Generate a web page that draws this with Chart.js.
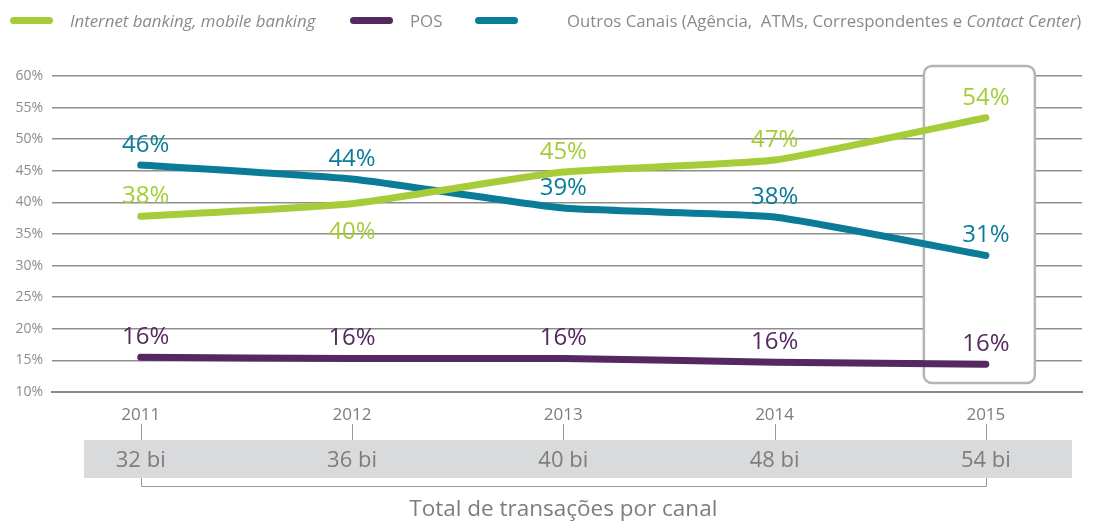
<!DOCTYPE html>
<html>
<head>
<meta charset="utf-8">
<script src="https://cdn.jsdelivr.net/npm/chart.js@4"></script>
<style>
  html, body { margin: 0; padding: 0; background: #fff; }
  #wrap { position: relative; width: 1093px; height: 523px; }
  #legend { position: absolute; left: 0; top: 9px; font-family: 'Open Sans', sans-serif; font-size: 16.8px; color: #8a8a8a; white-space: nowrap; }
  #legend span.item { position: absolute; top: 0; }
  #legend i.sw { position: absolute; top: 8px; width: 43px; height: 7px; border-radius: 4px; }
</style>
</head>
<body>
<div id="wrap">
  <div id="legend"></div>
  <canvas id="chart" width="1093" height="523"></canvas>
</div>
<script>
const years = [2011, 2012, 2013, 2014, 2015];
const internetValues = [37.8, 39.8, 44.8, 46.7, 53.4];
const posValues = [15.5, 15.3, 15.3, 14.7, 14.4];
const outrosValues = [45.9, 43.7, 39.1, 37.7, 31.6];
const internetLabels = ['38%', '40%', '45%', '47%', '54%'];
const posLabels = ['16%', '16%', '16%', '16%', '16%'];
const outrosLabels = ['46%', '44%', '39%', '38%', '31%'];
const internetBelow = [false, true, false, false, false];
const totals = ['32 bi', '36 bi', '40 bi', '48 bi', '54 bi'];
const yTicks = [10, 15, 20, 25, 30, 35, 40, 45, 50, 55, 60];

const green = '#a6cd39';
const purple = '#55285f';
const teal = '#0a7c98';

// legend (HTML so "Contact Center" can be italic)
const legend = document.getElementById('legend');
legend.innerHTML =
  '<i class="sw" style="left:10px;background:' + green + '"></i>' +
  '<span class="item" style="left:70px;font-style:italic">Internet banking, mobile banking</span>' +
  '<i class="sw" style="left:350px;background:' + purple + '"></i>' +
  '<span class="item" style="left:410px">POS</span>' +
  '<i class="sw" style="left:475px;background:' + teal + '"></i>' +
  '<span class="item" style="left:567px">Outros Canais (Agência,&nbsp; ATMs, Correspondentes e <i>Contact Center</i>)</span>';

const toPoints = vals => vals.map((v, i) => ({ x: years[i], y: v }));

const highlightBox = {
  id: 'highlightBox',
  beforeDatasetsDraw(chart) {
    const { ctx, scales } = chart;
    const cx = scales.x.getPixelForValue(2015);
    const left = cx - 62, right = cx + 49;
    const top = scales.y.getPixelForValue(60) - 10;
    const bottom = scales.y.getPixelForValue(10) - 9;
    ctx.save();
    ctx.beginPath();
    ctx.roundRect(left, top, right - left, bottom - top, 8);
    ctx.fillStyle = '#fff';
    ctx.fill();
    ctx.lineWidth = 2.5;
    ctx.strokeStyle = '#b4b5b8';
    ctx.stroke();
    ctx.restore();
  }
};

const valueLabels = {
  id: 'valueLabels',
  afterDatasetsDraw(chart) {
    const { ctx } = chart;
    const sets = [internetLabels, posLabels, outrosLabels];
    ctx.save();
    ctx.font = '24px "Open Sans", sans-serif';
    ctx.textAlign = 'center';
    ctx.textBaseline = 'middle';
    chart.data.datasets.forEach((ds, di) => {
      const meta = chart.getDatasetMeta(di);
      ctx.fillStyle = ds.borderColor;
      meta.data.forEach((pt, i) => {
        const below = di === 0 && internetBelow[i];
        ctx.fillText(sets[di][i], pt.x + (i === 0 ? 5 : 0), pt.y + (below ? 28 : -20));
      });
    });
    ctx.restore();
  }
};

const totalsBand = {
  id: 'totalsBand',
  afterDraw(chart) {
    const { ctx, scales } = chart;
    const xs = years.map(y => scales.x.getPixelForValue(y));
    ctx.save();
    ctx.fillStyle = '#d9dadb';
    ctx.fillRect(84, 440, 988, 38);
    ctx.strokeStyle = '#9a9a9a';
    ctx.lineWidth = 1;
    xs.forEach(x => {
      ctx.beginPath();
      ctx.moveTo(Math.round(x) + 0.5, 424);
      ctx.lineTo(Math.round(x) + 0.5, 440);
      ctx.stroke();
    });
    const x0 = Math.round(xs[0]) + 0.5, x1 = Math.round(xs[xs.length - 1]) + 0.5;
    ctx.beginPath();
    ctx.moveTo(x0, 478);
    ctx.lineTo(x0, 486.5);
    ctx.lineTo(x1, 486.5);
    ctx.lineTo(x1, 478);
    ctx.stroke();
    ctx.fillStyle = '#7d7d7d';
    ctx.font = '22px "Open Sans", sans-serif';
    ctx.textAlign = 'center';
    ctx.textBaseline = 'middle';
    totals.forEach((t, i) => ctx.fillText(t, xs[i], 461));
    ctx.font = '22.5px "Open Sans", sans-serif';
    ctx.fillText('Total de transações por canal', (xs[0] + xs[4]) / 2, 510);
    ctx.restore();
  }
};

new Chart(document.getElementById('chart').getContext('2d'), {
  type: 'line',
  data: {
    datasets: [
      { label: 'Internet banking, mobile banking', data: toPoints(internetValues), borderColor: green },
      { label: 'POS', data: toPoints(posValues), borderColor: purple },
      { label: 'Outros Canais', data: toPoints(outrosValues), borderColor: teal }
    ]
  },
  options: {
    responsive: false,
    animation: false,
    layout: { padding: { top: 76, right: 11, left: 0, bottom: 0 } },
    elements: {
      line: { borderWidth: 7, borderCapStyle: 'round', borderJoinStyle: 'round', tension: 0.15 },
      point: { radius: 0, hoverRadius: 0 }
    },
    scales: {
      x: {
        type: 'linear',
        min: 2010.58,
        max: 2015.455,
        afterBuildTicks: axis => { axis.ticks = years.map(v => ({ value: v })); },
        afterFit: axis => { axis.height = 131; },
        grid: { display: false },
        border: { display: true, color: '#888', width: 2 },
        ticks: {
          padding: 5,
          color: '#7d7d7d',
          font: { family: 'Open Sans', size: 17 },
          callback: v => String(v)
        }
      },
      y: {
        min: 10,
        max: 60,
        afterBuildTicks: axis => { axis.ticks = yTicks.map(v => ({ value: v })); },
        afterFit: axis => { axis.width = 52; },
        grid: { color: '#8e8e8e', lineWidth: 1.5, drawTicks: false },
        border: { display: false },
        ticks: {
          padding: 9,
          color: '#8c8c8c',
          font: { family: 'Open Sans', size: 14 },
          callback: v => v + '%'
        }
      }
    },
    plugins: {
      legend: { display: false },
      tooltip: { enabled: false }
    }
  },
  plugins: [highlightBox, valueLabels, totalsBand]
});
</script>
</body>
</html>
